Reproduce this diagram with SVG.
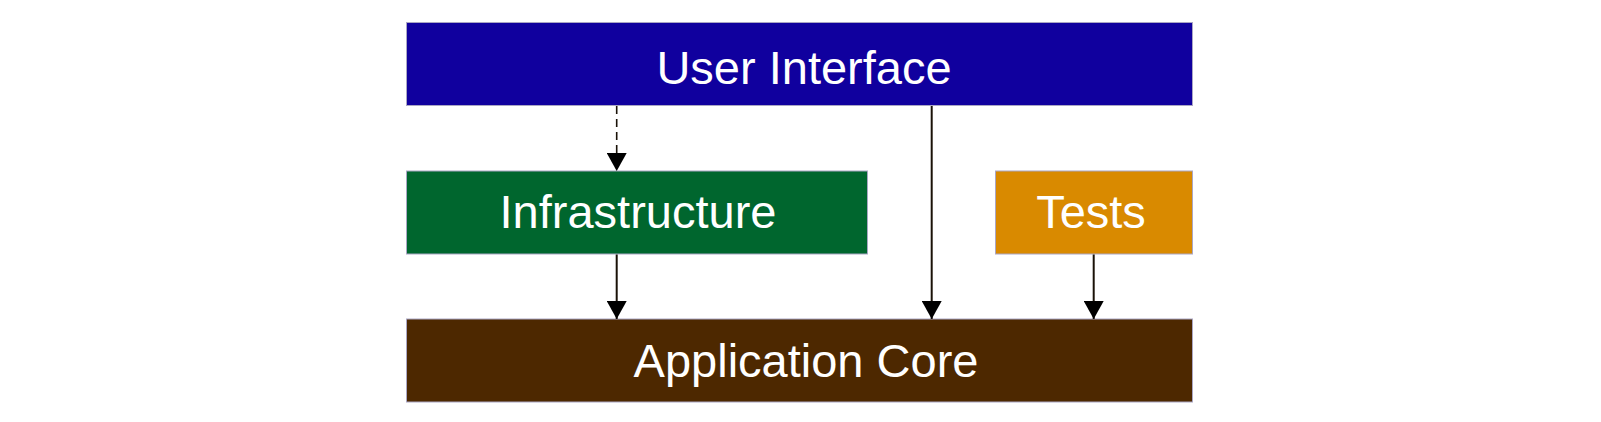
<svg xmlns="http://www.w3.org/2000/svg" width="1601" height="422" viewBox="0 0 1601 422">
  <style>
    .box { stroke: #aaa6c4; stroke-width: 1; }
    .label { font-family: "Liberation Sans", Arial, sans-serif; font-size: 47px; fill: #ffffff; text-anchor: middle; }
    .conn { stroke: #1a1208; stroke-width: 2; fill: none; }
    .dash { stroke-dasharray: 8 5; stroke-width: 1.6; }
  </style>
  <defs>
    <marker id="arrow" viewBox="0 0 18 20" refX="18" refY="10" markerWidth="18" markerHeight="20" markerUnits="userSpaceOnUse" orient="auto">
      <path d="M0,0 L18,10 L0,20 Z" fill="#000000"/>
    </marker>
  </defs>
  <rect width="1601" height="422" fill="#ffffff"/>
  <g id="user-interface">
    <rect class="box" x="406.5" y="22.5" width="786" height="83" fill="#10009e"/>
    <text class="label" x="804" y="84">User Interface</text>
  </g>
  <g id="infrastructure">
    <rect class="box" x="406.5" y="171" width="461" height="83" fill="#00662e"/>
    <text class="label" x="638" y="228">Infrastructure</text>
  </g>
  <g id="tests">
    <rect class="box" x="995.5" y="171" width="197" height="83" fill="#d98a00"/>
    <text class="label" x="1091" y="228">Tests</text>
  </g>
  <g id="application-core">
    <rect class="box" x="406.5" y="319" width="786" height="83" fill="#4d2800"/>
    <text class="label" x="806" y="377">Application Core</text>
  </g>
  <g id="connectors">
    <path class="conn dash" d="M616.7,106 L616.7,171" marker-end="url(#arrow)"/>
    <path class="conn" d="M931.7,106 L931.7,319" marker-end="url(#arrow)"/>
    <path class="conn" d="M616.7,254.5 L616.7,319" marker-end="url(#arrow)"/>
    <path class="conn" d="M1093.7,254.5 L1093.7,319" marker-end="url(#arrow)"/>
  </g>
</svg>
